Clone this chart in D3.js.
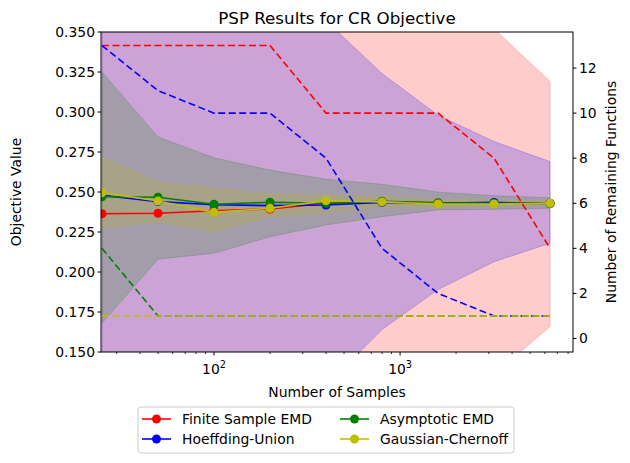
<!DOCTYPE html>
<html>
<head>
<meta charset="utf-8">
<script src="https://cdn.jsdelivr.net/npm/d3@7"></script>
<style>
  body { margin: 0; background: #fff; }
  text { font-family: "DejaVu Sans", sans-serif; fill: #000; }
</style>
</head>
<body>
<div id="chart"></div>
<script>
// sample sizes on the x axis
const samples = [25, 50, 100, 200, 400, 800, 1600, 3200, 6400];

// mean objective values
const finiteMean = [0.2364, 0.2367, 0.2383, 0.2394, 0.2430, 0.2440, 0.2432, 0.2430, 0.2428];
const hoeffMean = [0.2480, 0.2440, 0.2420, 0.2415, 0.2419, 0.2435, 0.2430, 0.2435, 0.2428];
const asympMean = [0.2470, 0.2467, 0.2423, 0.2436, 0.2430, 0.2442, 0.2432, 0.2430, 0.2428];
const gaussMean = [0.2496, 0.2444, 0.2373, 0.2398, 0.2446, 0.2438, 0.2425, 0.2425, 0.2429];

// confidence bands
const finiteLo = [-0.10, -0.05, 0.00, 0.03, 0.06, 0.09, 0.115, 0.136, 0.166];
const finiteHi = [0.60, 0.56, 0.52, 0.48, 0.44, 0.40, 0.37, 0.352, 0.319];
const hoeffLo = [0.00, 0.03, 0.06, 0.09, 0.129, 0.164, 0.189, 0.2064, 0.218];
const hoeffHi = [0.50, 0.46, 0.42, 0.39, 0.357, 0.324, 0.298, 0.2815, 0.269];
const asympLo = [0.168, 0.208, 0.2117, 0.222, 0.2294, 0.2346, 0.2388, 0.2392, 0.2398];
const asympHi = [0.325, 0.2844, 0.2714, 0.2637, 0.258, 0.2548, 0.250, 0.2477, 0.2464];
const gaussLo = [0.2277, 0.2314, 0.2252, 0.2346, 0.2369, 0.2408, 0.2405, 0.2415, 0.242];
const gaussHi = [0.2717, 0.2564, 0.2523, 0.2488, 0.248, 0.2475, 0.2455, 0.245, 0.2445];

// remaining functions (right axis)
const finiteLeft = [13, 13, 13, 13, 10, 10, 10, 8, 4];
const hoeffLeft = [13, 11, 10, 10, 8, 4, 2, 1, 1];
const asympLeft = [4, 1, 1, 1, 1, 1, 1, 1, 1];
const gaussLeft = [1, 1, 1, 1, 1, 1, 1, 1, 1];

const names = ["Finite Sample EMD", "Hoeffding-Union", "Asymptotic EMD", "Gaussian-Chernoff"];
const colors = ["#ff0000", "#0000ff", "#008000", "#bfbf00"];
const yTicks = [0.150, 0.175, 0.200, 0.225, 0.250, 0.275, 0.300, 0.325, 0.350];
const rTicks = [0, 2, 4, 6, 8, 10, 12];

const series = [
  { mean: finiteMean, lo: finiteLo, hi: finiteHi, left: finiteLeft },
  { mean: hoeffMean, lo: hoeffLo, hi: hoeffHi, left: hoeffLeft },
  { mean: asympMean, lo: asympLo, hi: asympHi, left: asympLeft },
  { mean: gaussMean, lo: gaussLo, hi: gaussHi, left: gaussLeft },
];

const width = 630, height = 463;
const box = { left: 101, right: 573, top: 32, bottom: 352 };

const svg = d3.select("#chart").append("svg")
  .attr("width", width).attr("height", height);

const x = d3.scaleLog().domain([24.7, 8500]).range([box.left, box.right]);
const y = d3.scaleLinear().domain([0.15, 0.35]).range([box.bottom, box.top]);
const yr = d3.scaleLinear().domain([-0.6, 13.6]).range([box.bottom, box.top]);

svg.append("clipPath").attr("id", "clip").append("rect")
  .attr("x", box.left).attr("y", box.top)
  .attr("width", box.right - box.left).attr("height", box.bottom - box.top);

const plot = svg.append("g").attr("clip-path", "url(#clip)");

// bands
const area = d3.area()
  .x((d, i) => x(samples[i]))
  .y0(d => y(d[0]))
  .y1(d => y(d[1]));

series.forEach((s, k) => {
  plot.append("path")
    .datum(s.lo.map((v, i) => [v, s.hi[i]]))
    .attr("d", area)
    .attr("fill", colors[k]).attr("fill-opacity", 0.2)
    .attr("stroke", colors[k]).attr("stroke-opacity", 0.2).attr("stroke-width", 1);
});

// mean lines with markers
const line = d3.line().x((d, i) => x(samples[i])).y(d => y(d));
series.forEach((s, k) => {
  plot.append("path").datum(s.mean).attr("d", line)
    .attr("fill", "none").attr("stroke", colors[k]).attr("stroke-width", 1.6);
  plot.selectAll(null).data(s.mean).join("circle")
    .attr("cx", (d, i) => x(samples[i])).attr("cy", d => y(d))
    .attr("r", 4.5).attr("fill", colors[k]);
});

// remaining functions (dashed, right axis)
const rline = d3.line().x((d, i) => x(samples[i])).y(d => yr(d));
series.forEach((s, k) => {
  plot.append("path").datum(s.left).attr("d", rline)
    .attr("fill", "none").attr("stroke", colors[k]).attr("stroke-width", 1.6)
    .attr("stroke-dasharray", "7,3.5");
});

// frame
svg.append("rect")
  .attr("x", box.left).attr("y", box.top)
  .attr("width", box.right - box.left).attr("height", box.bottom - box.top)
  .attr("fill", "none").attr("stroke", "#000").attr("stroke-width", 1);

// left axis
const gl = svg.append("g");
yTicks.forEach(t => {
  gl.append("line").attr("x1", box.left - 3.5).attr("x2", box.left)
    .attr("y1", y(t)).attr("y2", y(t)).attr("stroke", "#000");
  gl.append("text").attr("x", box.left - 6).attr("y", y(t))
    .attr("dy", "0.35em").attr("text-anchor", "end").attr("font-size", "13.9px")
    .text(d3.format(".3f")(t));
});

// right axis
const gr = svg.append("g");
rTicks.forEach(t => {
  gr.append("line").attr("x1", box.right).attr("x2", box.right + 3.5)
    .attr("y1", yr(t)).attr("y2", yr(t)).attr("stroke", "#000");
  gr.append("text").attr("x", box.right + 6).attr("y", yr(t))
    .attr("dy", "0.35em").attr("text-anchor", "start").attr("font-size", "13.9px")
    .text(t);
});

// bottom axis (log)
const gb = svg.append("g");
const [x0, x1] = x.domain();
for (let e = 1; e <= 3; e++) {
  for (let m = 1; m <= 9; m++) {
    const v = m * Math.pow(10, e);
    if (v < x0 || v > x1) continue;
    const major = m === 1;
    gb.append("line").attr("x1", x(v)).attr("x2", x(v))
      .attr("y1", box.bottom).attr("y2", box.bottom + (major ? 3.5 : 2))
      .attr("stroke", "#000").attr("stroke-width", major ? 1 : 0.8);
    if (major) {
      const t = gb.append("text").attr("x", x(v)).attr("y", box.bottom + 22)
        .attr("text-anchor", "middle").attr("font-size", "13.9px");
      t.append("tspan").text("10");
      t.append("tspan").attr("dy", "-6").attr("font-size", "9.7px").text(e);
    }
  }
}

// labels
svg.append("text").attr("x", (box.left + box.right) / 2).attr("y", 24)
  .attr("text-anchor", "middle").attr("font-size", "16.7px")
  .text("PSP Results for CR Objective");
svg.append("text").attr("x", (box.left + box.right) / 2).attr("y", 397)
  .attr("text-anchor", "middle").attr("font-size", "13.9px")
  .text("Number of Samples");
svg.append("text")
  .attr("transform", `translate(21,${(box.top + box.bottom) / 2}) rotate(-90)`)
  .attr("text-anchor", "middle").attr("font-size", "13.9px")
  .text("Objective Value");
svg.append("text")
  .attr("transform", `translate(616,${(box.top + box.bottom) / 2}) rotate(-90)`)
  .attr("text-anchor", "middle").attr("font-size", "13.9px")
  .text("Number of Remaining Functions");

// legend
const lg = svg.append("g");
lg.append("rect").attr("x", 138).attr("y", 407).attr("width", 376).attr("height", 46)
  .attr("rx", 3).attr("fill", "#fff").attr("stroke", "#ccc").attr("stroke-width", 1);
const legPos = [[142, 419], [142, 439], [340, 419], [340, 439]];
names.forEach((n, k) => {
  const [lx, ly] = legPos[k];
  lg.append("line").attr("x1", lx).attr("x2", lx + 29).attr("y1", ly).attr("y2", ly)
    .attr("stroke", colors[k]).attr("stroke-width", 1.6);
  lg.append("circle").attr("cx", lx + 14.5).attr("cy", ly).attr("r", 4.5).attr("fill", colors[k]);
  lg.append("text").attr("x", lx + 40).attr("y", ly).attr("dy", "0.35em")
    .attr("font-size", "13.9px").text(n);
});
</script>
</body>
</html>
